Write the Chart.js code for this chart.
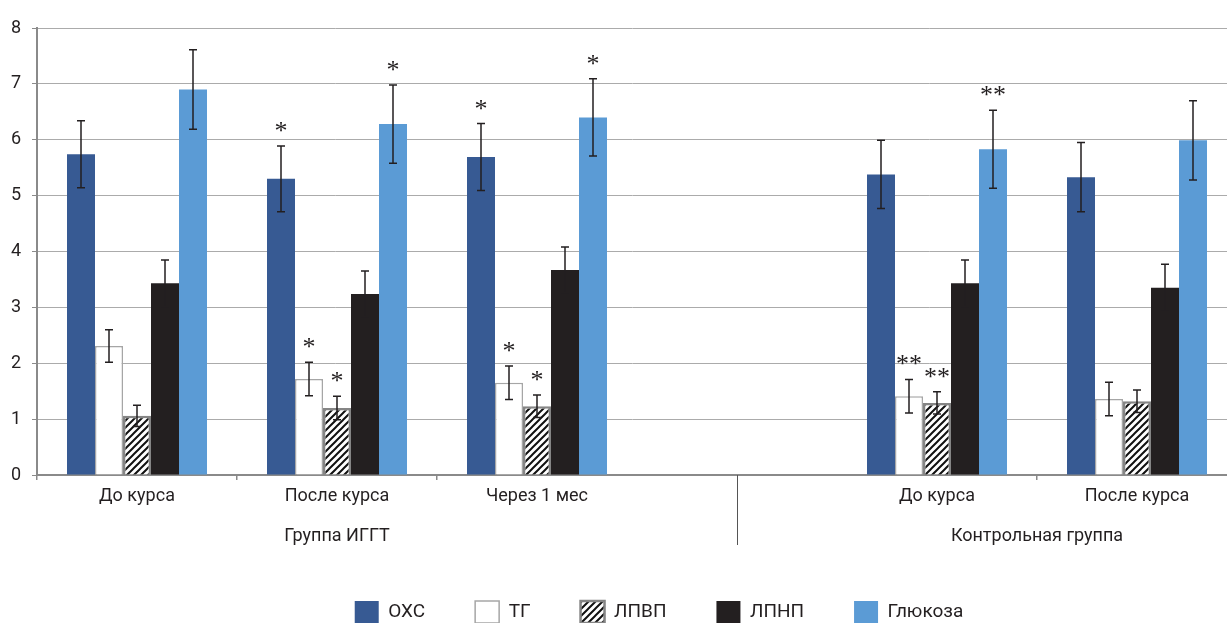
<!DOCTYPE html>
<html>
<head>
<meta charset="utf-8">
<script src="https://cdn.jsdelivr.net/npm/chart.js@4.4.1/dist/chart.umd.min.js"></script>
<style>
  html, body { margin: 0; padding: 0; background: #fff; }
  #wrap { width: 1227px; height: 623px; }
</style>
</head>
<body>
<div id="wrap"><canvas id="chart"></canvas></div>
<script>
// подписи категорий (пустая категория — промежуток между группами)
const categories = ['До курса', 'После курса', 'Через 1 мес', '', 'До курса', 'После курса'];
const groupNames = ['Группа ИГГТ', 'Контрольная группа'];
const groupSpans = [[0, 2], [4, 5]];
const yTicks = [0, 1, 2, 3, 4, 5, 6, 7, 8];

// средние значения
const oxc  = [5.74, 5.30, 5.69, null, 5.38, 5.33];
const tg   = [2.31, 1.72, 1.65, null, 1.41, 1.36];
const lpvp = [1.06, 1.20, 1.23, null, 1.29, 1.32];
const lpnp = [3.43, 3.24, 3.67, null, 3.43, 3.35];
const glu  = [6.90, 6.28, 6.40, null, 5.83, 5.99];

// стандартные отклонения
const oxcErr  = [0.60, 0.59, 0.60, null, 0.61, 0.62];
const tgErr   = [0.29, 0.30, 0.30, null, 0.30, 0.30];
const lpvpErr = [0.19, 0.21, 0.20, null, 0.20, 0.20];
const lpnpErr = [0.42, 0.41, 0.41, null, 0.42, 0.42];
const gluErr  = [0.71, 0.70, 0.69, null, 0.70, 0.71];

// значимость различий
const oxcSig  = ['', '*', '*', '', '', ''];
const tgSig   = ['', '*', '*', '', '**', ''];
const lpvpSig = ['', '*', '*', '', '**', ''];
const lpnpSig = ['', '', '', '', '', ''];
const gluSig  = ['', '*', '*', '', '**', ''];

const textColor = '#231f20';
const axisColor = '#8a8a8a';
const baseFont = 'Roboto, "DejaVu Sans", sans-serif';

// штриховка для ЛПВП
function makeHatch() {
    const c = document.createElement('canvas');
    c.width = 7; c.height = 7;
    const g = c.getContext('2d');
    g.fillStyle = '#fff';
    g.fillRect(0, 0, 7, 7);
    g.strokeStyle = '#111';
    g.lineWidth = 2;
    g.beginPath();
    g.moveTo(0, 7); g.lineTo(7, 0);
    g.moveTo(-1, 1); g.lineTo(1, -1);
    g.moveTo(6, 8); g.lineTo(8, 6);
    g.stroke();
    return g.createPattern(c, 'repeat');
}
const hatch = makeHatch();

// ось X в оригинале уходит чуть за правый край, легенда сдвинута вправо
const stretch = {
    id: 'stretch',
    afterLayout(chart) {
        const x = chart.scales.x;
        x.right = chart.width + 10;
        x.width = x.right - x.left;
        x.configure();
        const lg = chart.legend;
        lg.left += 27;
        lg.right += 27;
    }
};

// планки погрешностей и звёздочки
const errorBars = {
    id: 'errorBars',
    afterDatasetsDraw(chart) {
        const ctx = chart.ctx;
        const y = chart.scales.y;
        ctx.save();
        chart.data.datasets.forEach((ds, i) => {
            const meta = chart.getDatasetMeta(i);
            meta.data.forEach((bar, j) => {
                const v = ds.data[j];
                const e = ds.err[j];
                if (v == null || e == null) return;
                const top = y.getPixelForValue(v + e);
                const bot = y.getPixelForValue(v - e);
                ctx.strokeStyle = textColor;
                ctx.lineWidth = 1.5;
                ctx.beginPath();
                ctx.moveTo(bar.x, top); ctx.lineTo(bar.x, bot);
                ctx.moveTo(bar.x - 4, top); ctx.lineTo(bar.x + 4, top);
                ctx.moveTo(bar.x - 4, bot); ctx.lineTo(bar.x + 4, bot);
                ctx.stroke();
                const s = ds.sig[j];
                if (s) {
                    ctx.fillStyle = textColor;
                    ctx.font = '26px "Liberation Serif", "DejaVu Serif", serif';
                    ctx.textAlign = 'center';
                    ctx.textBaseline = 'alphabetic';
                    const m = ctx.measureText(s);
                    const mid = top - 19;
                    const off = (m.actualBoundingBoxAscent - m.actualBoundingBoxDescent) / 2;
                    ctx.fillText(s, bar.x, mid + off);
                }
            });
        });
        ctx.restore();
    }
};

// подписи групп и разделитель
const groupLabels = {
    id: 'groupLabels',
    afterDraw(chart) {
        const ctx = chart.ctx;
        const x = chart.scales.x;
        const area = chart.chartArea;
        ctx.save();
        ctx.fillStyle = textColor;
        ctx.font = '18px ' + baseFont;
        ctx.textAlign = 'center';
        ctx.textBaseline = 'middle';
        groupNames.forEach((name, i) => {
            const cx = (x.getPixelForValue(groupSpans[i][0]) + x.getPixelForValue(groupSpans[i][1])) / 2;
            ctx.fillText(name, cx, area.bottom + 61);
        });
        const sx = Math.round(x.getPixelForValue(3)) + 0.5;
        ctx.strokeStyle = '#555';
        ctx.lineWidth = 1;
        ctx.beginPath();
        ctx.moveTo(sx, area.bottom);
        ctx.lineTo(sx, area.bottom + 70);
        ctx.stroke();
        ctx.restore();
    }
};

new Chart(document.getElementById('chart'), {
    type: 'bar',
    data: {
        labels: categories,
        datasets: [
            { label: 'ОХС', data: oxc, err: oxcErr, sig: oxcSig, backgroundColor: '#375a93', borderWidth: 0 },
            { label: 'ТГ', data: tg, err: tgErr, sig: tgSig, backgroundColor: '#ffffff', borderColor: '#a6a6a6', borderWidth: 1.5 },
            { label: 'ЛПВП', data: lpvp, err: lpvpErr, sig: lpvpSig, backgroundColor: hatch, borderColor: '#858585', borderWidth: 2.5 },
            { label: 'ЛПНП', data: lpnp, err: lpnpErr, sig: lpnpSig, backgroundColor: '#231f20', borderWidth: 0 },
            { label: 'Глюкоза', data: glu, err: gluErr, sig: gluSig, backgroundColor: '#5b9bd5', borderWidth: 0 }
        ]
    },
    options: {
        responsive: true,
        maintainAspectRatio: false,
        animation: false,
        layout: { padding: { top: 28, right: 0, bottom: -10, left: 0 } },
        datasets: { bar: { categoryPercentage: 0.7, barPercentage: 1.0 } },
        scales: {
            x: {
                grid: {
                    drawOnChartArea: false,
                    tickLength: 5,
                    color: ctx => (ctx.index === 3 || ctx.index === 4) ? 'rgba(0,0,0,0)' : axisColor,
                    lineWidth: 1.5
                },
                border: { color: axisColor, width: 2 },
                ticks: { color: textColor, padding: 6, font: { family: baseFont, size: 18 } },
                afterFit: s => { s.height = 76; }
            },
            y: {
                min: 0,
                max: 8,
                afterBuildTicks: s => { s.ticks = yTicks.map(v => ({ value: v })); },
                grid: { color: '#ababab', lineWidth: 1, tickColor: axisColor, tickLength: 5 },
                border: { color: axisColor, width: 2 },
                ticks: { color: textColor, padding: 11, font: { family: baseFont, size: 18 } },
                afterFit: s => { s.width = 37; }
            }
        },
        plugins: {
            legend: {
                position: 'bottom',
                fullSize: false,
                labels: {
                    color: textColor,
                    boxWidth: 24,
                    boxHeight: 22,
                    padding: 50,
                    font: { family: baseFont, size: 19 }
                }
            },
            tooltip: { enabled: false },
            title: { display: false }
        }
    },
    plugins: [stretch, errorBars, groupLabels]
});
</script>
</body>
</html>
